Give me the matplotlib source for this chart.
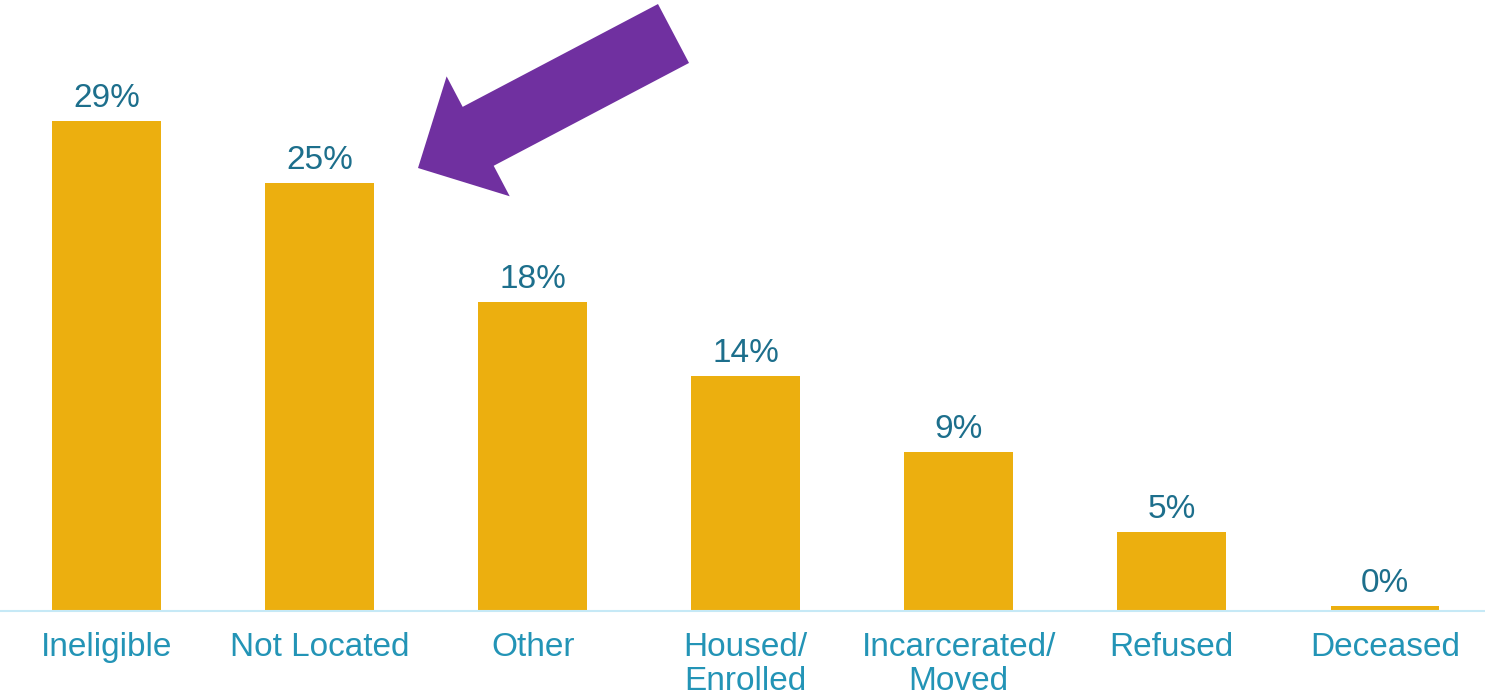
import matplotlib
matplotlib.use("Agg")
import matplotlib.pyplot as plt
from matplotlib.patches import FancyArrow

categories = ["Ineligible", "Not Located", "Other", "Housed/\nEnrolled",
              "Incarcerated/\nMoved", "Refused", "Deceased"]
values = [28.8, 25.2, 18.2, 13.8, 9.35, 4.65, 0.3]
value_labels = ["29%", "25%", "18%", "14%", "9%", "5%", "0%"]

bar_color = "#ECAF0F"
value_color = "#1D6F8C"
cat_color = "#2394B6"
axis_color = "#C6E9F6"
arrow_color = "#7030A0"

plt.rcParams["font.family"] = ["Liberation Sans", "DejaVu Sans"]

fig = plt.figure(figsize=(14.85, 6.96), dpi=100)
ax = fig.add_axes([0, 85 / 696, 1, 611 / 696])

x = range(len(categories))
bars = ax.bar(x, values, width=0.51, color=bar_color)

for rect, lab in zip(bars, value_labels):
    ax.annotate(lab, (rect.get_x() + rect.get_width() / 2, rect.get_height()),
                xytext=(0, 5), textcoords="offset points",
                ha="center", va="bottom", fontsize=24, color=value_color)

ax.set_xlim(-0.5, 6.47)
ax.set_ylim(0, 35.94)
ax.set_xticks(list(x))
ax.set_xticklabels(categories, fontsize=24, color=cat_color, linespacing=1.12)
ax.tick_params(axis="x", length=0, pad=15)
ax.set_yticks([])
for s in ["top", "left", "right"]:
    ax.spines[s].set_visible(False)
ax.spines["bottom"].set_color(axis_color)
ax.spines["bottom"].set_linewidth(1.5)

# purple arrow pointing at "Not Located" (figure inches)
tail = (673.5 / 100, (696 - 33.5) / 100)
tip = (418 / 100, (696 - 168) / 100)
arrow = FancyArrow(tail[0], tail[1], tip[0] - tail[0], tip[1] - tail[1],
                   width=0.666, head_width=1.355, head_length=0.68,
                   length_includes_head=True, color=arrow_color,
                   transform=fig.dpi_scale_trans, linewidth=0)
fig.patches.append(arrow)

fig.savefig("out.png", dpi=100)
